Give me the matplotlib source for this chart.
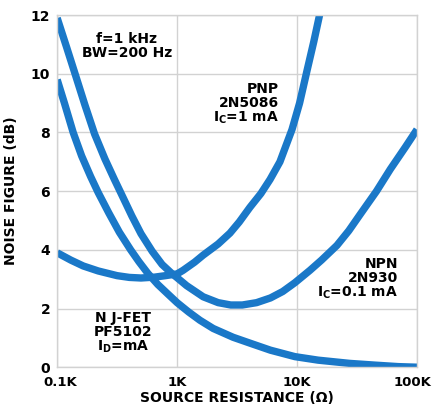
import matplotlib
matplotlib.use("Agg")
import matplotlib.pyplot as plt
import matplotlib.transforms as mtransforms

# source resistance in kOhm, noise figure in dB
npn_r = [0.1, 0.12, 0.141, 0.17, 0.205, 0.25, 0.3, 0.348, 0.42, 0.5, 0.62, 0.75, 0.9, 1.0, 1.2,
         1.65, 2.2, 2.8, 3.5, 4.6, 6.0, 7.6, 9.6, 12.8, 16, 21.5, 27, 33.5, 46, 60, 80, 100]
npn_nf = [11.9, 10.9, 10.0, 8.95, 7.95, 7.1, 6.4, 5.85, 5.15, 4.55, 3.95, 3.5, 3.2, 3.05, 2.78,
          2.4, 2.2, 2.12, 2.12, 2.2, 2.36, 2.58, 2.88, 3.3, 3.65, 4.15, 4.65, 5.2, 6.0, 6.75, 7.5, 8.1]

pnp_r = [0.1, 0.13, 0.165, 0.22, 0.316, 0.4, 0.5, 0.65, 0.8, 1.0, 1.12, 1.4, 1.65, 2.2, 2.76,
         3.3, 4.05, 5.0, 5.96, 7.2, 8.0, 9.08, 10.5, 12.1, 13.8, 15.5]
pnp_nf = [3.9, 3.65, 3.45, 3.28, 3.12, 3.06, 3.04, 3.07, 3.12, 3.18, 3.3, 3.58, 3.82, 4.2, 4.57,
          4.95, 5.45, 5.92, 6.4, 7.0, 7.5, 8.1, 9.0, 10.1, 11.1, 12.05]

jfet_r = [0.1, 0.115, 0.136, 0.16, 0.19, 0.22, 0.27, 0.33, 0.41, 0.48, 0.57, 0.69, 0.85, 1.0,
          1.25, 1.55, 2.0, 2.93, 4.05, 6.0, 9.6, 15, 27.5, 45, 70, 100]
jfet_nf = [9.8, 9.0, 8.0, 7.2, 6.5, 5.95, 5.25, 4.6, 4.0, 3.6, 3.2, 2.82, 2.47, 2.2,
           1.88, 1.6, 1.32, 1.02, 0.82, 0.58, 0.36, 0.24, 0.13, 0.07, 0.02, 0.0]

x_ticks = [0.1, 1, 10, 100]
x_labels = ["0.1K", "1K", "10K", "100K"]
y_ticks = [0, 2, 4, 6, 8, 10, 12]

plt.rcParams["font.family"] = ["DejaVu Sans"]
plt.rcParams["font.weight"] = "bold"
plt.rcParams["axes.labelweight"] = "bold"
plt.rcParams["mathtext.default"] = "regular"

blue = "#1a78c8"
grid_col = "#d2d2d2"

fig = plt.figure(figsize=(4.33, 4.08), dpi=100)
ax = fig.add_axes([0.132, 0.100, 0.831, 0.863])

for r, nf in [(npn_r, npn_nf), (pnp_r, pnp_nf), (jfet_r, jfet_nf)]:
    ax.plot(r, nf, color=blue, lw=5.3, solid_capstyle="butt", solid_joinstyle="round")

ax.set_xscale("log")
ax.set_xlim(0.1, 100)
ax.set_ylim(0, 12)
ax.set_xticks(x_ticks)
ax.set_xticklabels(x_labels)
ax.minorticks_off()
ax.set_yticks(y_ticks)
ax.tick_params(length=0, labelsize=10, pad=5)
ax.tick_params(axis="x", labelsize=9.5, pad=6)
ax.grid(True, color=grid_col, lw=1.0)
for s in ax.spines.values():
    s.set_color(grid_col)
    s.set_linewidth(1.0)

# nudge the end labels so they stay on the canvas, as in the original
fig.canvas.draw()
xt = ax.get_xticklabels()
xt[-1].set_transform(xt[-1].get_transform() + mtransforms.ScaledTranslation(-3 / 72, 0, fig.dpi_scale_trans))
xt[0].set_transform(xt[0].get_transform() + mtransforms.ScaledTranslation(2 / 72, 0, fig.dpi_scale_trans))

ax.set_xlabel("SOURCE RESISTANCE (\u03a9)", fontsize=10, labelpad=2)
ax.set_ylabel("NOISE FIGURE (dB)", fontsize=10, labelpad=9)

ax.text(0.194, 0.912, "f=1 kHz\nBW=200 Hz", transform=ax.transAxes,
        ha="center", va="center", fontsize=10, linespacing=1.0)
ax.text(0.617, 0.747, "PNP\n2N5086\nI$_C$=1 mA", transform=ax.transAxes,
        ha="right", va="center", fontsize=10, linespacing=1.0)
ax.text(0.947, 0.25, "NPN\n2N930\nI$_C$=0.1 mA", transform=ax.transAxes,
        ha="right", va="center", fontsize=10, linespacing=1.0)
ax.text(0.183, 0.097, "N J-FET\nPF5102\nI$_D$=mA", transform=ax.transAxes,
        ha="center", va="center", fontsize=10, linespacing=1.0)

fig.savefig("out.png", dpi=100)
